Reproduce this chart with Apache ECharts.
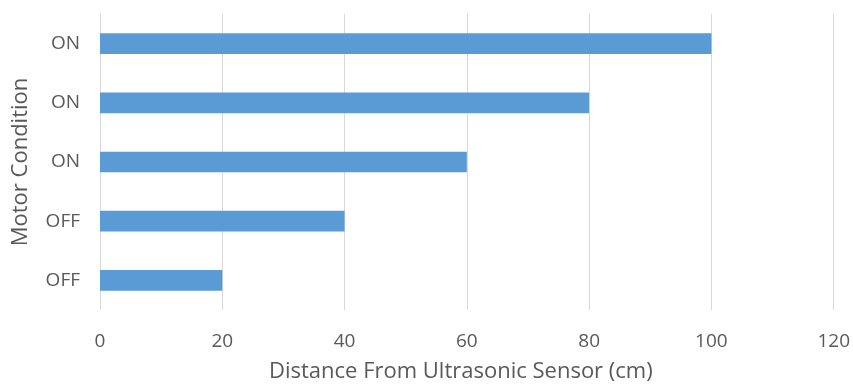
<!DOCTYPE html>
<html><head><meta charset="utf-8">
<script src="https://cdn.jsdelivr.net/npm/echarts@6/dist/echarts.min.js"></script>
<style>html,body{margin:0;padding:0;background:#fff}#c{width:853px;height:388px}</style>
</head><body><div id="c"></div>
<script>
var categories = ['OFF', 'OFF', 'ON', 'ON', 'ON'];
var values = [20, 40, 60, 80, 100];
var xTicks = {min: 0, max: 120, interval: 20};
var xTitle = 'Distance From Ultrasonic Sensor (cm)';
var yTitle = 'Motor Condition';

var chart = echarts.init(document.getElementById('c'), null, {renderer: 'canvas'});
var font = '"Open Sans", sans-serif';
chart.setOption({
  animation: false,
  grid: {left: 100, right: 17, top: 14, bottom: 78},
  xAxis: {
    type: 'value', min: xTicks.min, max: xTicks.max, interval: xTicks.interval,
    axisLine: {show: false}, axisTick: {show: false},
    splitLine: {show: true, lineStyle: {color: '#d9d9d9', width: 1}},
    axisLabel: {color: '#595959', fontSize: 19, fontFamily: font, margin: 22},
    name: xTitle, nameLocation: 'middle', nameGap: 51,
    nameTextStyle: {color: '#595959', fontSize: 22, fontFamily: font, padding: [0, 12, 0, 0]}
  },
  yAxis: {
    type: 'category', data: categories,
    axisLine: {show: false}, axisTick: {show: false},
    axisLabel: {color: '#595959', fontSize: 19, fontFamily: font, margin: 20},
    name: yTitle, nameLocation: 'middle', nameGap: 68, nameRotate: 90,
    nameTextStyle: {color: '#595959', fontSize: 22, fontFamily: font}
  },
  series: [{
    type: 'bar', data: values, barCategoryGap: '65%',
    itemStyle: {color: '#5b9bd5'}
  }]
});
</script></body></html>
